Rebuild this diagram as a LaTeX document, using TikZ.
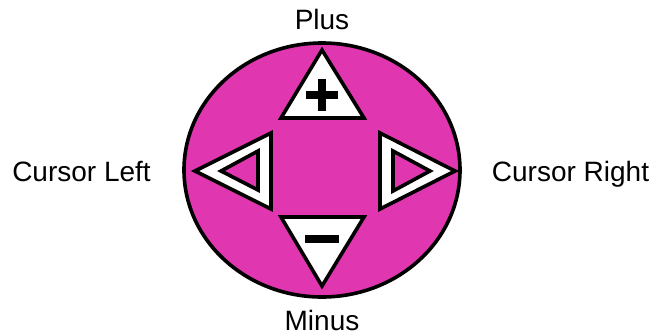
\documentclass[tikz,border=0pt]{standalone}
\usepackage{fontspec}
\setmainfont{Liberation Sans}
\definecolor{padpink}{RGB}{224,54,176}
\begin{document}
\begin{tikzpicture}[x=1pt,y=-1pt,
  outline/.style={draw=black,line width=3.6pt,line join=miter},
  lbl/.style={font=\fontsize{28}{30}\selectfont,inner sep=0pt,anchor=base}]
\useasboundingbox (0,0) rectangle (655,335);
% pad
\draw[outline,fill=padpink] (322,170) ellipse [x radius=138, y radius=127];
% up
\draw[outline,fill=white] (322,50) -- (364,118) -- (281,118) -- cycle;
\fill[black] (318,79) rectangle (326,111);
\fill[black] (306,91) rectangle (338,99);
% down
\draw[outline,fill=white] (281,217) -- (364,217) -- (322,286) -- cycle;
\fill[black] (305,235) rectangle (339,243);
% left
\draw[outline,fill=white] (195,171) -- (271,133) -- (271,209) -- cycle;
\draw[outline,fill=padpink] (221,171) -- (258,151) -- (258,190) -- cycle;
% right
\draw[outline,fill=white] (455,171) -- (380,133) -- (380,209) -- cycle;
\draw[outline,fill=padpink] (430,171) -- (393,151) -- (393,191) -- cycle;
% labels
\node[lbl] (plus) at (322,29) {Plus};
\node[lbl] (minus) at (322,330) {Minus};
\node[lbl] (left) at (81.5,181) {Cursor Left};
\node[lbl] (right) at (570.5,181) {Cursor Right};
\end{tikzpicture}
\end{document}
